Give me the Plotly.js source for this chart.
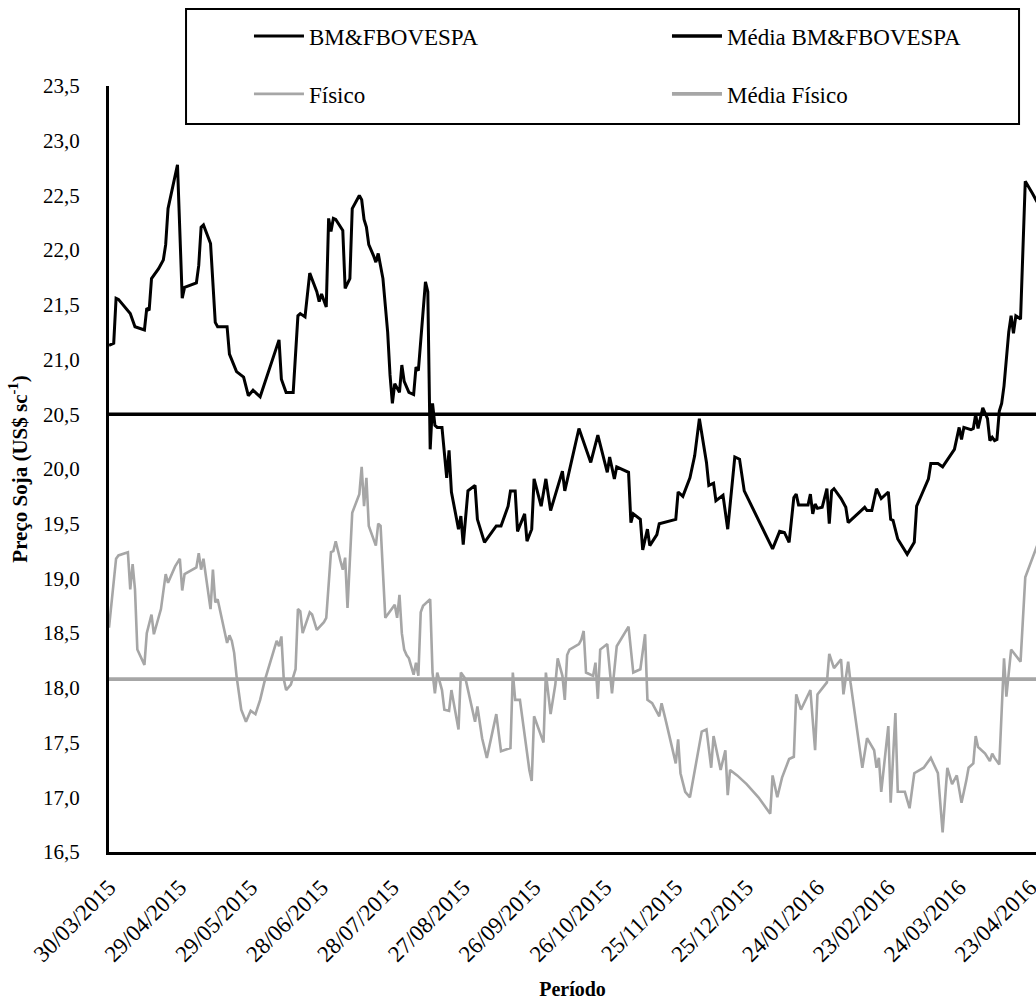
<!DOCTYPE html>
<html>
<head>
<meta charset="utf-8">
<script src="https://cdn.plot.ly/plotly-3.0.1.min.js"></script>
<style>html,body{margin:0;padding:0;background:#fff;}#chart{width:1036px;height:1000px;}</style>
</head>
<body>
<div id="chart"></div>
<script>
// ---- Data ----
const bmDates = ["2015-03-30","2015-04-01","2015-04-02","2015-04-03","2015-04-08","2015-04-10","2015-04-14","2015-04-15","2015-04-16","2015-04-17","2015-04-20","2015-04-22","2015-04-23","2015-04-24","2015-04-28","2015-04-30","2015-05-01","2015-05-06","2015-05-07","2015-05-08","2015-05-09","2015-05-12","2015-05-14","2015-05-15","2015-05-19","2015-05-20","2015-05-23","2015-05-26","2015-05-28","2015-05-30","2015-06-02","2015-06-10","2015-06-11","2015-06-13","2015-06-16","2015-06-18","2015-06-19","2015-06-21","2015-06-23","2015-06-26","2015-06-27","2015-06-28","2015-06-30","2015-07-01","2015-07-02","2015-07-03","2015-07-04","2015-07-07","2015-07-08","2015-07-10","2015-07-11","2015-07-14","2015-07-15","2015-07-16","2015-07-17","2015-07-18","2015-07-20","2015-07-21","2015-07-22","2015-07-24","2015-07-26","2015-07-27","2015-07-28","2015-07-29","2015-07-31","2015-08-01","2015-08-02","2015-08-04","2015-08-06","2015-08-07","2015-08-08","2015-08-11","2015-08-12","2015-08-13","2015-08-14","2015-08-15","2015-08-16","2015-08-18","2015-08-20","2015-08-21","2015-08-22","2015-08-25","2015-08-26","2015-08-27","2015-08-29","2015-09-01","2015-09-02","2015-09-05","2015-09-10","2015-09-12","2015-09-15","2015-09-16","2015-09-18","2015-09-19","2015-09-22","2015-09-23","2015-09-25","2015-09-26","2015-09-29","2015-10-01","2015-10-03","2015-10-08","2015-10-09","2015-10-15","2015-10-20","2015-10-23","2015-10-27","2015-10-28","2015-10-30","2015-10-31","2015-11-05","2015-11-06","2015-11-07","2015-11-10","2015-11-11","2015-11-13","2015-11-14","2015-11-17","2015-11-18","2015-11-25","2015-11-26","2015-11-28","2015-12-01","2015-12-03","2015-12-05","2015-12-08","2015-12-09","2015-12-11","2015-12-12","2015-12-15","2015-12-17","2015-12-20","2015-12-22","2015-12-24","2016-01-05","2016-01-08","2016-01-10","2016-01-12","2016-01-14","2016-01-15","2016-01-16","2016-01-20","2016-01-21","2016-01-22","2016-01-23","2016-01-24","2016-01-26","2016-01-28","2016-01-29","2016-01-30","2016-01-31","2016-02-03","2016-02-05","2016-02-06","2016-02-13","2016-02-14","2016-02-16","2016-02-18","2016-02-20","2016-02-23","2016-02-24","2016-02-25","2016-02-27","2016-03-02","2016-03-05","2016-03-06","2016-03-08","2016-03-11","2016-03-12","2016-03-15","2016-03-17","2016-03-22","2016-03-24","2016-03-25","2016-03-26","2016-03-29","2016-03-30","2016-03-31","2016-04-01","2016-04-02","2016-04-03","2016-04-05","2016-04-06","2016-04-07","2016-04-08","2016-04-09","2016-04-10","2016-04-11","2016-04-12","2016-04-14","2016-04-15","2016-04-16","2016-04-17","2016-04-19","2016-04-21","2016-04-24","2016-04-26"];
const bmValues = [21.13,21.15,21.56,21.55,21.42,21.30,21.27,21.47,21.45,21.74,21.83,21.91,22.05,22.38,22.78,21.56,21.66,21.70,21.86,22.21,22.23,22.06,21.34,21.30,21.30,21.05,20.89,20.84,20.67,20.72,20.66,21.18,20.82,20.70,20.70,21.40,21.42,21.39,21.79,21.62,21.53,21.60,21.48,22.29,22.17,22.29,22.28,22.18,21.65,21.74,22.38,22.50,22.46,22.28,22.21,22.05,21.95,21.89,21.97,21.74,21.25,20.86,20.60,20.78,20.70,20.95,20.80,20.70,20.68,20.93,20.90,21.71,21.62,20.18,20.60,20.40,20.38,20.38,19.92,20.17,19.79,19.45,19.57,19.31,19.80,19.85,19.54,19.33,19.48,19.48,19.66,19.80,19.80,19.43,19.59,19.34,19.45,19.91,19.66,19.91,19.62,19.98,19.80,20.37,20.06,20.31,19.97,20.11,19.91,20.02,19.97,19.51,19.59,19.54,19.26,19.45,19.30,19.40,19.50,19.54,19.79,19.75,19.92,20.12,20.46,20.06,19.85,19.87,19.71,19.76,19.45,20.11,20.09,19.80,19.27,19.43,19.42,19.33,19.74,19.77,19.67,19.67,19.77,19.59,19.68,19.64,19.65,19.82,19.50,19.80,19.82,19.73,19.65,19.51,19.65,19.62,19.62,19.82,19.73,19.79,19.54,19.53,19.36,19.22,19.33,19.66,19.76,19.91,20.05,20.05,20.02,20.18,20.38,20.27,20.38,20.36,20.37,20.50,20.37,20.47,20.56,20.46,20.26,20.29,20.26,20.27,20.53,20.60,20.76,21.25,21.40,21.24,21.40,21.37,22.63,22.52,22.44];

const fisDates = ["2015-03-30","2015-04-02","2015-04-03","2015-04-07","2015-04-08","2015-04-09","2015-04-10","2015-04-11","2015-04-14","2015-04-15","2015-04-17","2015-04-18","2015-04-21","2015-04-23","2015-04-24","2015-04-27","2015-04-29","2015-04-30","2015-05-01","2015-05-06","2015-05-07","2015-05-08","2015-05-09","2015-05-12","2015-05-13","2015-05-14","2015-05-15","2015-05-19","2015-05-20","2015-05-21","2015-05-22","2015-05-23","2015-05-25","2015-05-27","2015-05-29","2015-05-31","2015-06-02","2015-06-04","2015-06-09","2015-06-10","2015-06-11","2015-06-12","2015-06-13","2015-06-15","2015-06-17","2015-06-18","2015-06-19","2015-06-20","2015-06-23","2015-06-24","2015-06-26","2015-06-29","2015-06-30","2015-07-02","2015-07-03","2015-07-04","2015-07-06","2015-07-07","2015-07-08","2015-07-09","2015-07-11","2015-07-14","2015-07-15","2015-07-16","2015-07-17","2015-07-18","2015-07-21","2015-07-22","2015-07-23","2015-07-25","2015-07-29","2015-07-30","2015-07-31","2015-08-01","2015-08-02","2015-08-03","2015-08-04","2015-08-05","2015-08-06","2015-08-07","2015-08-08","2015-08-09","2015-08-10","2015-08-13","2015-08-14","2015-08-15","2015-08-16","2015-08-18","2015-08-19","2015-08-21","2015-08-22","2015-08-25","2015-08-26","2015-08-28","2015-08-30","2015-09-01","2015-09-02","2015-09-04","2015-09-06","2015-09-10","2015-09-12","2015-09-16","2015-09-17","2015-09-18","2015-09-20","2015-09-24","2015-09-25","2015-09-26","2015-09-30","2015-10-01","2015-10-03","2015-10-05","2015-10-06","2015-10-07","2015-10-08","2015-10-09","2015-10-10","2015-10-11","2015-10-15","2015-10-16","2015-10-17","2015-10-18","2015-10-21","2015-10-22","2015-10-23","2015-10-24","2015-10-27","2015-10-29","2015-10-31","2015-11-05","2015-11-07","2015-11-10","2015-11-12","2015-11-13","2015-11-15","2015-11-18","2015-11-19","2015-11-21","2015-11-25","2015-11-26","2015-11-27","2015-11-29","2015-12-01","2015-12-06","2015-12-08","2015-12-10","2015-12-11","2015-12-14","2015-12-16","2015-12-17","2015-12-18","2015-12-21","2015-12-25","2015-12-30","2016-01-04","2016-01-05","2016-01-07","2016-01-09","2016-01-12","2016-01-14","2016-01-15","2016-01-17","2016-01-21","2016-01-23","2016-01-24","2016-01-28","2016-01-29","2016-01-31","2016-02-03","2016-02-04","2016-02-06","2016-02-07","2016-02-12","2016-02-14","2016-02-17","2016-02-18","2016-02-19","2016-02-20","2016-02-23","2016-02-24","2016-02-26","2016-02-27","2016-03-01","2016-03-03","2016-03-05","2016-03-09","2016-03-12","2016-03-15","2016-03-17","2016-03-19","2016-03-21","2016-03-23","2016-03-25","2016-03-27","2016-03-28","2016-03-30","2016-03-31","2016-04-01","2016-04-04","2016-04-06","2016-04-07","2016-04-08","2016-04-10","2016-04-12","2016-04-13","2016-04-15","2016-04-17","2016-04-19","2016-04-21","2016-04-26"];
const fisValues = [18.55,19.18,19.21,19.24,18.90,19.13,18.90,18.35,18.21,18.50,18.67,18.49,18.72,19.04,18.96,19.11,19.18,18.89,19.04,19.10,19.23,19.08,19.18,18.72,19.08,18.78,18.81,18.41,18.48,18.43,18.32,18.11,17.80,17.69,17.79,17.76,17.89,18.07,18.43,18.38,18.47,18.08,17.98,18.03,18.17,18.72,18.70,18.50,18.69,18.67,18.53,18.60,18.64,19.24,19.25,19.34,19.16,19.08,19.19,18.73,19.60,19.77,20.02,19.66,19.92,19.48,19.30,19.50,19.48,18.64,18.76,18.64,18.85,18.50,18.35,18.30,18.27,18.19,18.12,18.23,18.11,18.69,18.75,18.81,18.14,17.95,18.14,17.98,17.80,17.79,17.98,17.62,18.14,18.08,17.89,17.69,17.83,17.54,17.36,17.76,17.42,17.45,18.14,17.89,17.89,17.25,17.15,17.74,17.50,18.14,17.76,18.03,18.27,18.20,18.11,17.89,18.30,18.35,18.40,18.44,18.52,18.14,18.11,18.23,17.90,18.35,18.40,17.95,18.38,18.56,18.14,18.17,18.49,17.89,17.86,17.74,17.86,17.68,17.31,17.53,17.22,17.05,17.00,17.60,17.62,17.27,17.56,17.25,17.43,17.02,17.25,17.20,17.12,17.00,16.85,17.20,17.00,17.18,17.35,17.37,17.94,17.80,17.98,17.43,17.94,18.05,18.31,18.18,18.26,17.94,18.24,18.05,17.27,17.54,17.43,17.27,17.36,17.05,17.65,16.95,17.77,17.05,17.05,16.90,17.22,17.27,17.36,17.22,16.68,17.27,17.12,17.20,16.95,17.15,17.27,17.31,17.56,17.46,17.40,17.33,17.40,17.36,17.30,18.27,17.92,18.35,18.29,18.24,19.01,19.30];

const bmMean = 20.50;
const fisMean = 18.08;

const seriesNames = ["BM&FBOVESPA", "Média BM&FBOVESPA", "Físico", "Média Físico"];
const xRange = ["2015-03-30", "2016-04-25 13:00"];
const firstTick = "2015-03-30";
const tickStepDays = 30;

const BLACK = "#000000";
const GREY = "#A6A6A6";
const FONT = "Liberation Serif, serif";

const traces = [
  {type:"scatter", mode:"lines", name:seriesNames[0], x:bmDates, y:bmValues,
   line:{color:BLACK, width:3}, legend:"legend"},
  {type:"scatter", mode:"lines", name:seriesNames[2], x:fisDates, y:fisValues,
   line:{color:GREY, width:2.6}, legend:"legend2"},
  {type:"scatter", mode:"lines", name:seriesNames[1],
   x:[bmDates[0], bmDates[bmDates.length-1]], y:[bmMean, bmMean],
   line:{color:BLACK, width:3.6}, legend:"legend"},
  {type:"scatter", mode:"lines", name:seriesNames[3],
   x:[fisDates[0], fisDates[fisDates.length-1]], y:[fisMean, fisMean],
   line:{color:GREY, width:3.6}, legend:"legend2"}
];

const legendCommon = {
  orientation:"h", x:0.151, xanchor:"left", yanchor:"middle",
  entrywidth:353, entrywidthmode:"pixels", itemwidth:50,
  bgcolor:"rgba(0,0,0,0)", borderwidth:0,
  font:{family:FONT, size:23, color:BLACK}, traceorder:"normal"
};

const layout = {
  width:1036, height:1000,
  paper_bgcolor:"#ffffff", plot_bgcolor:"#ffffff",
  separators:",.",
  font:{family:FONT, size:20, color:BLACK},
  margin:{l:109, r:0, t:86, b:148, pad:0, autoexpand:false},
  showlegend:true,
  hovermode:false,
  xaxis:{
    type:"date", range:xRange, autorange:false,
    tick0:firstTick, dtick:tickStepDays*86400000, tickformat:"%d/%m/%Y",
    tickangle:-45, ticks:"", ticklabelstandoff:10, ticklabeloverflow:"allow",
    showline:true, linecolor:BLACK, linewidth:3, mirror:false,
    showgrid:false, zeroline:false, automargin:false,
    tickfont:{family:FONT, size:23, color:BLACK},
    title:{text:"Período", font:{family:FONT, size:20, color:BLACK, weight:"bold"}, standoff:18}
  },
  yaxis:{
    range:[16.5, 23.5], autorange:false, dtick:0.5, tick0:16.5, tickformat:".1f",
    ticks:"", ticklabelstandoff:22,
    showline:true, linecolor:BLACK, linewidth:3,
    showgrid:false, zeroline:false, automargin:false,
    tickfont:{family:FONT, size:21, color:BLACK},
    title:{text:"Preço Soja (US$ sc<sup>-1</sup>)", font:{family:FONT, size:21, color:BLACK, weight:"bold"}, standoff:10}
  },
  legend:Object.assign({}, legendCommon, {y:1.0653}),
  legend2:Object.assign({}, legendCommon, {y:0.9896}),
  shapes:[{
    type:"rect", xref:"paper", yref:"paper",
    x0:0.0831, x1:0.9817, y0:0.9504, y1:1.1005,
    line:{color:BLACK, width:2}, fillcolor:"#ffffff", layer:"above"
  }]
};

Plotly.newPlot("chart", traces, layout, {staticPlot:true, displayModeBar:false});
</script>
</body>
</html>
